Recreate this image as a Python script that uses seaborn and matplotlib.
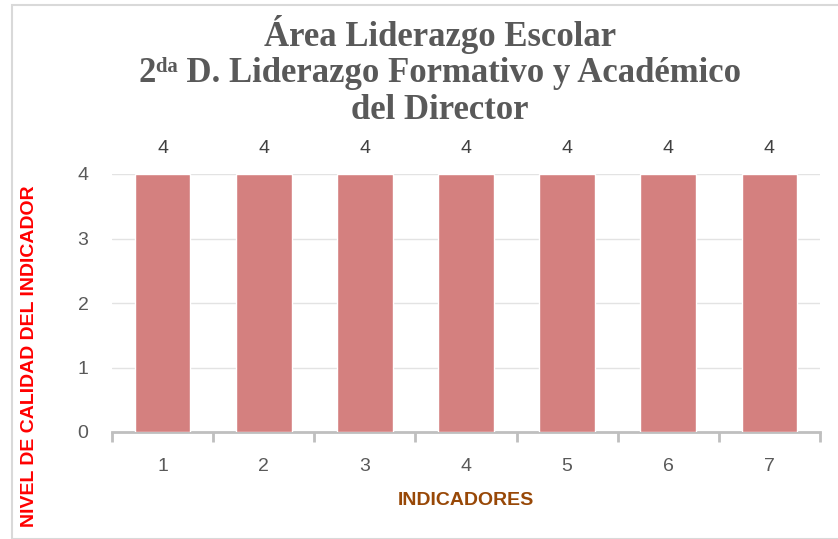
import numpy as np
import pandas as pd
import seaborn as sns
from matplotlib import pyplot as plt
from matplotlib.patches import Rectangle

# data
indicadores = ["1", "2", "3", "4", "5", "6", "7"]
nivel = [4, 4, 4, 4, 4, 4, 4]

df = pd.DataFrame({"indicador": indicadores, "nivel": nivel})

sns.set_theme(style="white")
plt.rcParams['font.family'] = ['Liberation Sans', 'DejaVu Sans']

fig = plt.figure(figsize=(8.38, 5.39), dpi=100)
ax = fig.add_axes([112 / 838, 1 - 432 / 539, (820 - 112) / 838, (432 - 174) / 539])

sns.barplot(data=df, x="indicador", y="nivel", color="#D4807F", saturation=1,
            width=0.55, ax=ax, zorder=3)

ax.set_xlim(-0.5, 6.5)
ax.set_ylim(0, 4)
ax.set_yticks([0, 1, 2, 3, 4])
ax.grid(axis="y", color="#E3E3E3", linewidth=1, zorder=0)
ax.grid(axis="x", visible=False)

for s in ["top", "right", "left"]:
    ax.spines[s].set_visible(False)
ax.spines["bottom"].set_color("#BFBFBF")
ax.spines["bottom"].set_linewidth(2)

# category boundary ticks
ax.set_xticks(np.arange(-0.5, 7, 1), minor=True)
ax.tick_params(axis="x", which="minor", length=7, width=2, color="#BFBFBF", direction="out", bottom=True)
ax.tick_params(axis="x", which="major", length=0, pad=19, labelsize=14, labelcolor="#595959")
ax.tick_params(axis="y", length=0, pad=17, labelsize=14, labelcolor="#595959")

# data labels
for c in ax.containers:
    ax.bar_label(c, labels=[str(v) for v in nivel], padding=12, fontsize=14, color="#404040")

ax.set_xlabel("INDICADORES", color="#984807", fontsize=14, fontweight="bold", labelpad=12)
ax.set_ylabel("")
fig.text(30 / 838, 1 - 356 / 539, "NIVEL DE CALIDAD DEL INDICADOR", rotation=90,
         color="#FF0000", fontsize=14, fontweight="bold", ha="center", va="center")

fig.text(440 / 838, 1 - 71 / 539,
         "Área Liderazgo Escolar\n2ᵈᵃ D. Liderazgo Formativo y Académico\ndel Director",
         ha="center", va="center", fontsize=25, fontweight="bold", color="#595959",
         family=["Liberation Serif", "DejaVu Serif"], linespacing=1.14)

# chart border
fig.patches.append(Rectangle((12 / 838, 0), 1, 1 - 5 / 539, transform=fig.transFigure,
                             fill=False, edgecolor="#D9D9D9", linewidth=1.5))

fig.savefig("out.png", dpi=100)
